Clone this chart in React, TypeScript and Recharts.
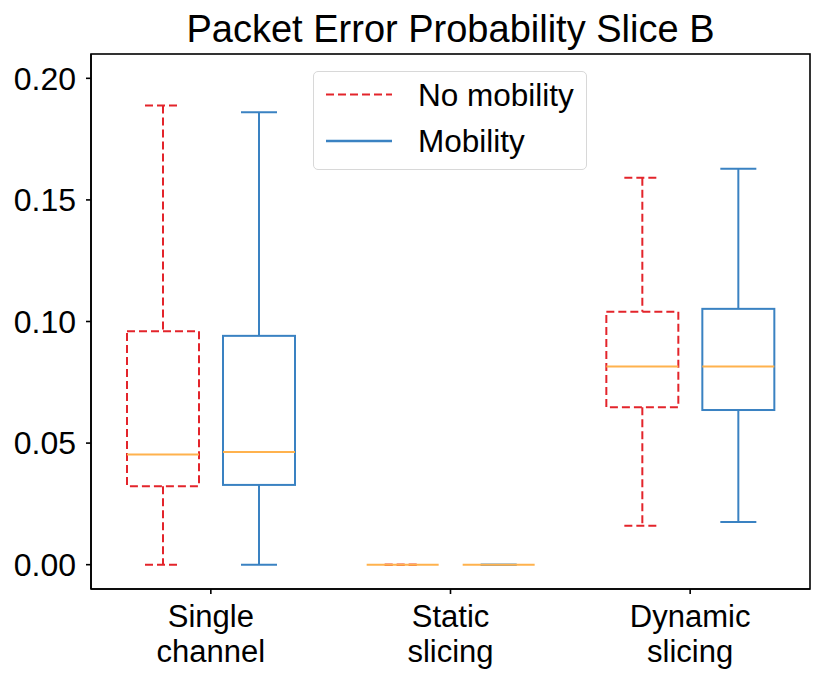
import { Bar, BarChart, XAxis, YAxis } from 'recharts'

// Categorías y estadísticas de cada caja (mín, Q1, mediana, Q3, máx)
const categories = ['Single channel', 'Static slicing', 'Dynamic slicing']

const noMobMin = [0.0, 0.0, 0.016]
const noMobQ1 = [0.0323, 0.0, 0.0647]
const noMobMed = [0.0453, 0.0, 0.0815]
const noMobQ3 = [0.096, 0.0, 0.104]
const noMobMax = [0.1888, 0.0, 0.1591]

const mobMin = [0.0, 0.0, 0.0176]
const mobQ1 = [0.0328, 0.0, 0.0636]
const mobMed = [0.0463, 0.0, 0.0815]
const mobQ3 = [0.0941, 0.0, 0.1052]
const mobMax = [0.186, 0.0, 0.1628]

const yTicks = [0, 0.05, 0.1, 0.15, 0.2]

const FONT = '"Liberation Sans", Arial, sans-serif'
const RED = '#e3242b'
const BLUE = '#3a82c2'
const ORANGE = '#ffb24d'

const data = categories.map((cat, i) => ({
  cat,
  nm: [noMobMin[i], noMobMax[i]],
  m: [mobMin[i], mobMax[i]],
  nmStats: [noMobMin[i], noMobQ1[i], noMobMed[i], noMobQ3[i], noMobMax[i]],
  mStats: [mobMin[i], mobQ1[i], mobMed[i], mobQ3[i], mobMax[i]],
}))

// Dibuja una caja a partir del rectángulo [mín, máx] que calcula la barra
function makeBox(statsKey: string, color: string, dash?: string) {
  return (props: any) => {
    const { x, y, width, height, payload } = props
    const [mn, q1, med, q3, mx] = payload[statsKey]
    const py = (v: number) => (mx - mn > 0 ? y + ((mx - v) / (mx - mn)) * height : y)
    const cx = x + width / 2
    const cap = width / 4
    const common = { stroke: color, strokeWidth: 2, strokeDasharray: dash, fill: 'none' }
    return (
      <g>
        <line x1={cx} x2={cx} y1={py(mx)} y2={py(q3)} {...common} />
        <line x1={cx} x2={cx} y1={py(q1)} y2={py(mn)} {...common} />
        <line x1={cx - cap} x2={cx + cap} y1={py(mx)} y2={py(mx)} {...common} />
        <line x1={cx - cap} x2={cx + cap} y1={py(mn)} y2={py(mn)} {...common} />
        <rect x={x} y={py(q3)} width={width} height={Math.max(py(q1) - py(q3), 0)} {...common} />
        <line x1={x} x2={x + width} y1={py(med)} y2={py(med)} stroke={ORANGE} strokeWidth={2} />
      </g>
    )
  }
}

function XTick(props: any) {
  const { x, y, payload } = props
  const [a, b] = String(payload.value).split(' ')
  return (
    <g>
      <text x={x} y={y + 33} textAnchor='middle' fontSize={31} fontFamily={FONT} fill='#000'>
        {a}
      </text>
      <text x={x} y={y + 68} textAnchor='middle' fontSize={31} fontFamily={FONT} fill='#000'>
        {b}
      </text>
    </g>
  )
}

function Leyenda() {
  return (
    <div
      style={{
        position: 'absolute',
        left: 313,
        top: 71,
        width: 272,
        height: 97,
        border: '1.5px solid #d8d8d8',
        borderRadius: 5,
        background: 'rgba(255,255,255,0.85)',
      }}
    >
      <svg width={272} height={97} style={{ position: 'absolute', left: 0, top: 0 }}>
        <line x1={12} x2={78} y1={22.5} y2={22.5} stroke={RED} strokeWidth={2} strokeDasharray='8 4' />
        <line x1={12} x2={78} y1={69} y2={69} stroke={BLUE} strokeWidth={2.4} />
        <text x={104} y={34} fontSize={31.5} fontFamily={FONT} fill='#000'>
          No mobility
        </text>
        <text x={104} y={80} fontSize={31.5} fontFamily={FONT} fill='#000'>
          Mobility
        </text>
      </svg>
    </div>
  )
}

export default function App() {
  return (
    <div style={{ position: 'absolute', left: 0, top: 0, width: 831, height: 683, background: '#fff' }}>
      <svg width={831} height={54} style={{ position: 'absolute', left: 0, top: 0 }}>
        <text x={450.5} y={42} textAnchor='middle' fontSize={38} fontFamily={FONT} fill='#000'>
          Packet Error Probability Slice B
        </text>
      </svg>
      <BarChart
        width={831}
        height={683}
        data={data}
        margin={{ top: 54, right: 21, bottom: 0, left: 0 }}
        barSize={72}
        barGap={24}
      >
        <XAxis
          dataKey='cat'
          height={94}
          tick={<XTick />}
          tickSize={5}
          tickMargin={0}
          interval={0}
          stroke='#000'
          axisLine={{ stroke: '#000', strokeWidth: 1.6 }}
          tickLine={{ stroke: '#000', strokeWidth: 1.6 }}
        />
        <YAxis
          type='number'
          domain={[-0.01, 0.21]}
          ticks={yTicks}
          allowDataOverflow
          width={91}
          tickSize={5}
          tickMargin={10}
          tickFormatter={(v) => Number(v).toFixed(2)}
          tick={{ fontSize: 32, fontFamily: FONT, fill: '#000' }}
          axisLine={{ stroke: '#000', strokeWidth: 1.6 }}
          tickLine={{ stroke: '#000', strokeWidth: 1.6 }}
        />
        <Bar dataKey='nm' isAnimationActive={false} shape={makeBox('nmStats', RED, '8 4')} />
        <Bar dataKey='m' isAnimationActive={false} shape={makeBox('mStats', BLUE)} />
      </BarChart>
      {/* marco superior y derecho del área del gráfico */}
      <svg width={831} height={683} style={{ position: 'absolute', left: 0, top: 0, pointerEvents: 'none' }}>
        <rect x={91} y={54} width={719} height={535} fill='none' stroke='#000' strokeWidth={1.6} />
      </svg>
      <Leyenda />
    </div>
  )
}
